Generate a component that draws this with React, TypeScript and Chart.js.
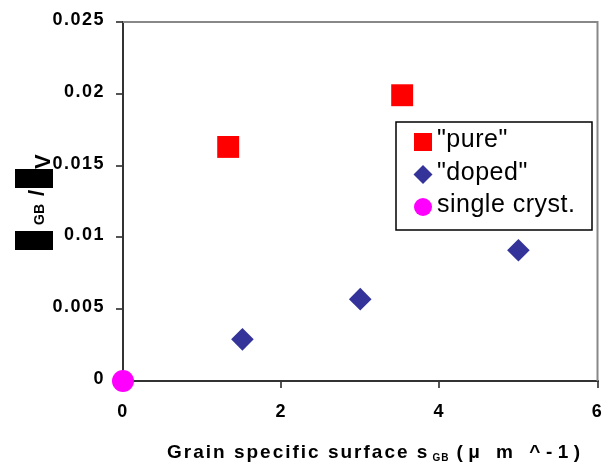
import React, { useEffect, useRef } from 'react';
import { Chart, registerables } from 'chart.js';

Chart.register(...registerables);

// ---- data ----
const pureX = [1.33, 3.53];
const pureY = [0.0163, 0.0199];
const dopedX = [1.51, 3.0, 5.0];
const dopedY = [0.0029, 0.0057, 0.0091];
const singleX = [0];
const singleY = [0];

const seriesLabels = ['"pure"', '"doped"', 'single cryst.'];
const seriesColors = ['#FF0000', '#333399', '#FF00FF'];
const xTickLabels = ['0', '2', '4', '6'];
const yTickLabels = ['0', '0.005', '0.01', '0.015', '0.02', '0.025'];
const xTitleParts = ['Grain specific surface s', 'GB', '(\u03bc m ^-1)'];
const yTitleParts = ['GB', '/', 'V'];

const FONT = '"Liberation Sans", Arial, sans-serif';

const toPoints = (xs: number[], ys: number[]) => xs.map((x, i) => ({ x, y: ys[i] }));

const decorPlugin = {
  id: 'decor',
  beforeDraw(chart: any) {
    chart.ctx.letterSpacing = '1.5px';
  },
  afterDraw(chart: any) {
    const ctx = chart.ctx as CanvasRenderingContext2D;
    const a = chart.chartArea;
    // top / right frame
    ctx.save();
    ctx.strokeStyle = '#888888';
    ctx.lineWidth = 2;
    ctx.beginPath();
    ctx.moveTo(a.left, a.top);
    ctx.lineTo(a.right, a.top);
    ctx.lineTo(a.right, a.bottom);
    ctx.stroke();
    ctx.restore();

    // legend
    ctx.save();
    const lx = 396, ly = 122, lw = 196, lh = 108;
    ctx.fillStyle = '#ffffff';
    ctx.fillRect(lx, ly, lw, lh);
    ctx.strokeStyle = '#000000';
    ctx.lineWidth = 1.5;
    ctx.strokeRect(lx, ly, lw, lh);
    const styles = chart.data.datasets.map((d: any) => d.pointStyle);
    chart.data.datasets.forEach((d: any, i: number) => {
      const cx = 423;
      const cy = 142 + i * 32.5;
      ctx.fillStyle = d.backgroundColor;
      ctx.beginPath();
      if (styles[i] === 'rect') {
        ctx.rect(cx - 9, cy - 9, 18, 18);
      } else if (styles[i] === 'rectRot') {
        ctx.moveTo(cx - 9.5, cy);
        ctx.lineTo(cx, cy - 9.5);
        ctx.lineTo(cx + 9.5, cy);
        ctx.lineTo(cx, cy + 9.5);
        ctx.closePath();
      } else {
        ctx.arc(cx, cy, 9, 0, Math.PI * 2);
      }
      ctx.fill();
      ctx.fillStyle = '#000000';
      ctx.font = `25px ${FONT}`;
      (ctx as any).letterSpacing = '0.5px';
      ctx.textBaseline = 'alphabetic';
      ctx.textAlign = 'left';
      ctx.fillText(d.label, 437, cy + 5);
    });
    ctx.restore();

    // x title with subscript
    ctx.save();
    ctx.fillStyle = '#000000';
    ctx.textAlign = 'left';
    ctx.textBaseline = 'alphabetic';
    ctx.font = `bold 19px ${FONT}`;
    (ctx as any).letterSpacing = '2px';
    let x = 167;
    ctx.fillText(xTitleParts[0], x, 458);
    x += ctx.measureText(xTitleParts[0]).width + 3;
    ctx.font = `bold 10px ${FONT}`;
    (ctx as any).letterSpacing = '1px';
    ctx.fillText(xTitleParts[1], x, 461);
    x += ctx.measureText(xTitleParts[1]).width + 7;
    ctx.font = `bold 19px ${FONT}`;
    (ctx as any).letterSpacing = '5.5px';
    ctx.fillText(xTitleParts[2], x, 458);
    ctx.restore();

    // y title (rotated), with redaction boxes as in the reference
    ctx.save();
    ctx.translate(0, 250);
    ctx.rotate(-Math.PI / 2);
    ctx.fillStyle = '#000000';
    ctx.textAlign = 'left';
    ctx.textBaseline = 'alphabetic';
    (ctx as any).letterSpacing = '0px';
    ctx.fillRect(0, 15, 19, 38);
    ctx.font = `bold 14px ${FONT}`;
    ctx.fillText(yTitleParts[0], 25, 44);
    ctx.font = `bold 22px ${FONT}`;
    ctx.fillText(yTitleParts[1], 54, 44);
    ctx.fillRect(62, 15, 19, 38);
    ctx.fillText(yTitleParts[2], 81, 50);
    ctx.restore();
  },
};

export default function App() {
  const ref = useRef<HTMLCanvasElement | null>(null);

  useEffect(() => {
    document.body.style.margin = '0';
    if (!ref.current) return;
    const tickFont = { family: FONT, size: 18, weight: 'bold' as const };
    const chart = new Chart(ref.current, {
      type: 'scatter',
      data: {
        datasets: [
          {
            label: seriesLabels[0],
            data: toPoints(pureX, pureY),
            pointStyle: 'rect',
            radius: 15.5,
            hoverRadius: 15.5,
            backgroundColor: seriesColors[0],
            borderWidth: 0,
            clip: false,
          },
          {
            label: seriesLabels[1],
            data: toPoints(dopedX, dopedY),
            pointStyle: 'rectRot',
            radius: 11.3,
            hoverRadius: 11.3,
            backgroundColor: seriesColors[1],
            borderWidth: 0,
            clip: false,
          },
          {
            label: seriesLabels[2],
            data: toPoints(singleX, singleY),
            pointStyle: 'circle',
            radius: 11,
            hoverRadius: 11,
            backgroundColor: seriesColors[2],
            borderWidth: 0,
            clip: false,
          },
        ] as any,
      },
      options: {
        animation: false,
        responsive: false,
        maintainAspectRatio: false,
        layout: { padding: { top: 22, right: 12, left: 0, bottom: 0 } },
        plugins: { legend: { display: false }, tooltip: { enabled: false } },
        events: [],
        scales: {
          x: {
            type: 'linear',
            min: 0,
            max: 6,
            ticks: {
              stepSize: 2,
              font: tickFont,
              color: '#000000',
              padding: 13,
              callback: (_v: any, i: number) => xTickLabels[i],
            },
            grid: { drawOnChartArea: false, drawTicks: true, tickLength: 7, color: '#555555', lineWidth: 2 },
            border: { display: true, color: '#333333', width: 2 },
            afterFit: (s: any) => {
              s.height = 85;
              s.paddingLeft = 0;
              s.paddingRight = 0;
            },
          },
          y: {
            type: 'linear',
            min: 0,
            max: 0.025,
            ticks: {
              stepSize: 0.005,
              font: tickFont,
              color: '#000000',
              padding: 11,
              labelOffset: -2,
              callback: (_v: any, i: number) => yTickLabels[i],
            },
            grid: { drawOnChartArea: false, drawTicks: true, tickLength: 7, color: '#555555', lineWidth: 2 },
            border: { display: true, color: '#333333', width: 2 },
            afterFit: (s: any) => {
              s.width = 123;
              s.paddingTop = 0;
              s.paddingBottom = 0;
            },
          },
        },
      } as any,
      plugins: [decorPlugin],
    });
    return () => chart.destroy();
  }, []);

  return <canvas ref={ref} width={613} height={466} style={{ display: 'block' }} />;
}
